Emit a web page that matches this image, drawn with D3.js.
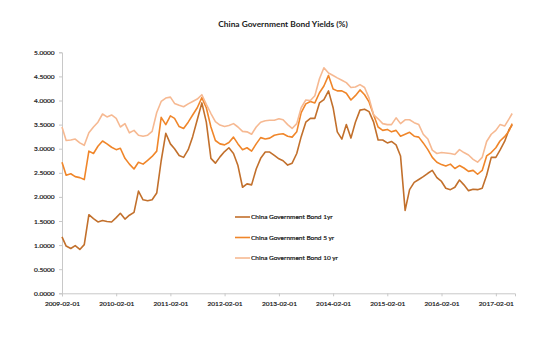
<!DOCTYPE html>
<html>
<head>
<meta charset="utf-8">
<script src="https://cdn.jsdelivr.net/npm/d3@7"></script>
<style>
  html, body { margin: 0; padding: 0; background: #fff; }
  svg { display: block; }
  text { font-family: Lato, "Open Sans", sans-serif; fill: #1a1a1a; }
  .lbl { stroke: #1a1a1a; stroke-width: 0.22px; }
</style>
</head>
<body>
<svg id="chart" width="552" height="338"></svg>
<script>
// Monthly observations, Feb 2009 through May 2017, plus the last quote.
const dates = d3.range(0, 100).map(m => new Date(2009, 1 + m, 1)).concat([new Date(2017, 4, 22)]);

const yield1yr = [
  1.17, 0.98, 0.93, 0.99, 0.91, 1.01, 1.63, 1.55, 1.48, 1.51,
  1.49, 1.48, 1.57, 1.66, 1.54, 1.62, 1.68, 2.12, 1.94, 1.92,
  1.94, 2.08, 2.75, 3.32, 3.10, 3.00, 2.86, 2.82, 2.98, 3.25,
  3.60, 3.95, 3.55, 2.80, 2.70, 2.83, 2.94, 3.02, 2.90, 2.65,
  2.20, 2.27, 2.25, 2.58, 2.80, 2.93, 2.93, 2.86, 2.79, 2.75,
  2.66, 2.70, 2.90, 3.25, 3.55, 3.63, 3.63, 3.95, 4.02, 4.20,
  3.85, 3.35, 3.20, 3.50, 3.22, 3.55, 3.80, 3.82, 3.77, 3.55,
  3.18, 3.18, 3.12, 3.15, 3.08, 2.85, 1.72, 2.15, 2.30, 2.36,
  2.42, 2.49, 2.55, 2.40, 2.32, 2.18, 2.15, 2.20, 2.35, 2.25,
  2.13, 2.16, 2.15, 2.18, 2.45, 2.82, 2.82, 2.97, 3.15, 3.40,
  3.49
];

const yield5yr = [
  2.72, 2.45, 2.48, 2.42, 2.40, 2.36, 2.95, 2.90, 3.05, 3.16,
  3.10, 3.03, 2.98, 3.01, 2.80, 2.68, 2.58, 2.72, 2.68, 2.76,
  2.84, 2.95, 3.65, 3.50, 3.68, 3.63, 3.46, 3.42, 3.55, 3.70,
  3.85, 4.06, 3.85, 3.45, 3.17, 3.10, 3.08, 3.13, 3.24, 3.10,
  2.98, 3.02, 2.95, 3.10, 3.23, 3.20, 3.22, 3.28, 3.30, 3.31,
  3.26, 3.24, 3.35, 3.75, 3.93, 3.98, 3.95, 4.16, 4.30, 4.52,
  4.24, 4.20, 4.20, 4.15, 4.01, 4.10, 4.22, 4.12, 3.97, 3.70,
  3.45, 3.38, 3.40, 3.35, 3.38, 3.26, 3.30, 3.34, 3.26, 3.24,
  3.12, 2.98, 2.82, 2.72, 2.67, 2.64, 2.68, 2.59, 2.65, 2.60,
  2.53, 2.55, 2.47, 2.55, 2.85, 2.92, 3.02, 3.16, 3.25, 3.37,
  3.52
];

const yield10yr = [
  3.45, 3.17, 3.18, 3.20, 3.12, 3.07, 3.33, 3.45, 3.55, 3.72,
  3.66, 3.70, 3.63, 3.45, 3.52, 3.33, 3.38, 3.28, 3.26, 3.28,
  3.36, 3.75, 3.98, 4.05, 4.07, 3.94, 3.90, 3.87, 3.93, 3.98,
  4.03, 4.12, 3.92, 3.73, 3.56, 3.49, 3.46, 3.48, 3.52, 3.45,
  3.36, 3.35, 3.30, 3.45, 3.55, 3.58, 3.59, 3.59, 3.62, 3.60,
  3.50, 3.42, 3.52, 3.85, 4.01, 4.00, 4.10, 4.45, 4.68, 4.57,
  4.52, 4.47, 4.42, 4.37, 4.27, 4.28, 4.33, 4.27, 4.05, 3.70,
  3.62, 3.52, 3.50, 3.50, 3.64, 3.52, 3.60, 3.60, 3.54, 3.50,
  3.30, 3.20, 2.97, 2.90, 2.92, 2.91, 2.90, 2.88, 2.98, 2.92,
  2.87, 2.78, 2.72, 2.82, 3.15, 3.30, 3.38, 3.50, 3.47, 3.62,
  3.73
];

const seriesNames = ["China Government Bond 1yr", "China Government Bond 5 yr", "China Government Bond 10 yr"];
const seriesColors = ["#c2702c", "#f0862a", "#f6b992"];
const xTickLabels = ["2009-02-01", "2010-02-01", "2011-02-01", "2012-02-01", "2013-02-01",
                     "2014-02-01", "2015-02-01", "2016-02-01", "2017-02-01"];
const yTicks = [0, 0.5, 1, 1.5, 2, 2.5, 3, 3.5, 4, 4.5, 5];
const title = "China Government Bond Yields (%)";

const series = [yield1yr, yield5yr, yield10yr].map((vals, i) => ({
  name: seriesNames[i],
  color: seriesColors[i],
  points: vals.map((v, j) => ({ date: dates[j], value: v }))
}));

const svg = d3.select("#chart");
const parse = d3.timeParse("%Y-%m-%d");

const x = d3.scaleTime()
  .domain([parse("2009-02-01"), parse("2017-06-10")])
  .range([62, 515]);
const y = d3.scaleLinear().domain([0, 5]).range([293.3, 52.3]);

const axisColor = "#c8c8c8";

// Title
svg.append("text")
  .attr("x", 283).attr("y", 26.5)
  .attr("text-anchor", "middle")
  .attr("font-size", 8.4).attr("font-weight", 700)
  .text(title);

// Y axis
const yAxis = svg.append("g")
  .attr("transform", "translate(62,0)")
  .call(d3.axisLeft(y).tickValues(yTicks).tickFormat(d3.format(".4f")).tickSizeOuter(0).tickSize(3).tickPadding(4.5));
yAxis.select(".domain").attr("stroke", axisColor);
yAxis.selectAll(".tick line").attr("stroke", axisColor);
yAxis.selectAll(".tick text").attr("class", "lbl").attr("font-size", 6.5).attr("font-family", "Lato, sans-serif").attr("fill", "#1a1a1a");

// X axis
const xAxis = svg.append("g")
  .attr("transform", "translate(0,293.3)")
  .call(d3.axisBottom(x).tickValues(xTickLabels.map(parse)).tickFormat(d3.timeFormat("%Y-%m-%d")).tickSizeOuter(0).tickSize(3).tickPadding(5));
xAxis.select(".domain").attr("stroke", axisColor);
xAxis.selectAll(".tick line").attr("stroke", axisColor);
xAxis.selectAll(".tick text").attr("class", "lbl").attr("font-size", 6.5).attr("font-family", "Lato, sans-serif").attr("fill", "#1a1a1a");

// Series lines
const line = d3.line().x(d => x(d.date)).y(d => y(d.value));
svg.append("g").selectAll("path")
  .data(series)
  .join("path")
  .attr("fill", "none")
  .attr("stroke", d => d.color)
  .attr("stroke-width", 1.6)
  .attr("stroke-linejoin", "round")
  .attr("d", d => line(d.points));

// Legend
const legend = svg.append("g").attr("transform", "translate(235,217)");
const rows = legend.selectAll("g").data(series).join("g")
  .attr("transform", (d, i) => `translate(0,${i * 20.5})`);
rows.append("line")
  .attr("x1", 0).attr("x2", 15).attr("y1", 0).attr("y2", 0)
  .attr("stroke", d => d.color).attr("stroke-width", 1.6);
rows.append("text")
  .attr("class", "lbl")
  .attr("x", 16).attr("y", 2.2)
  .attr("font-size", 6.5)
  .text(d => d.name);
</script>
</body>
</html>
